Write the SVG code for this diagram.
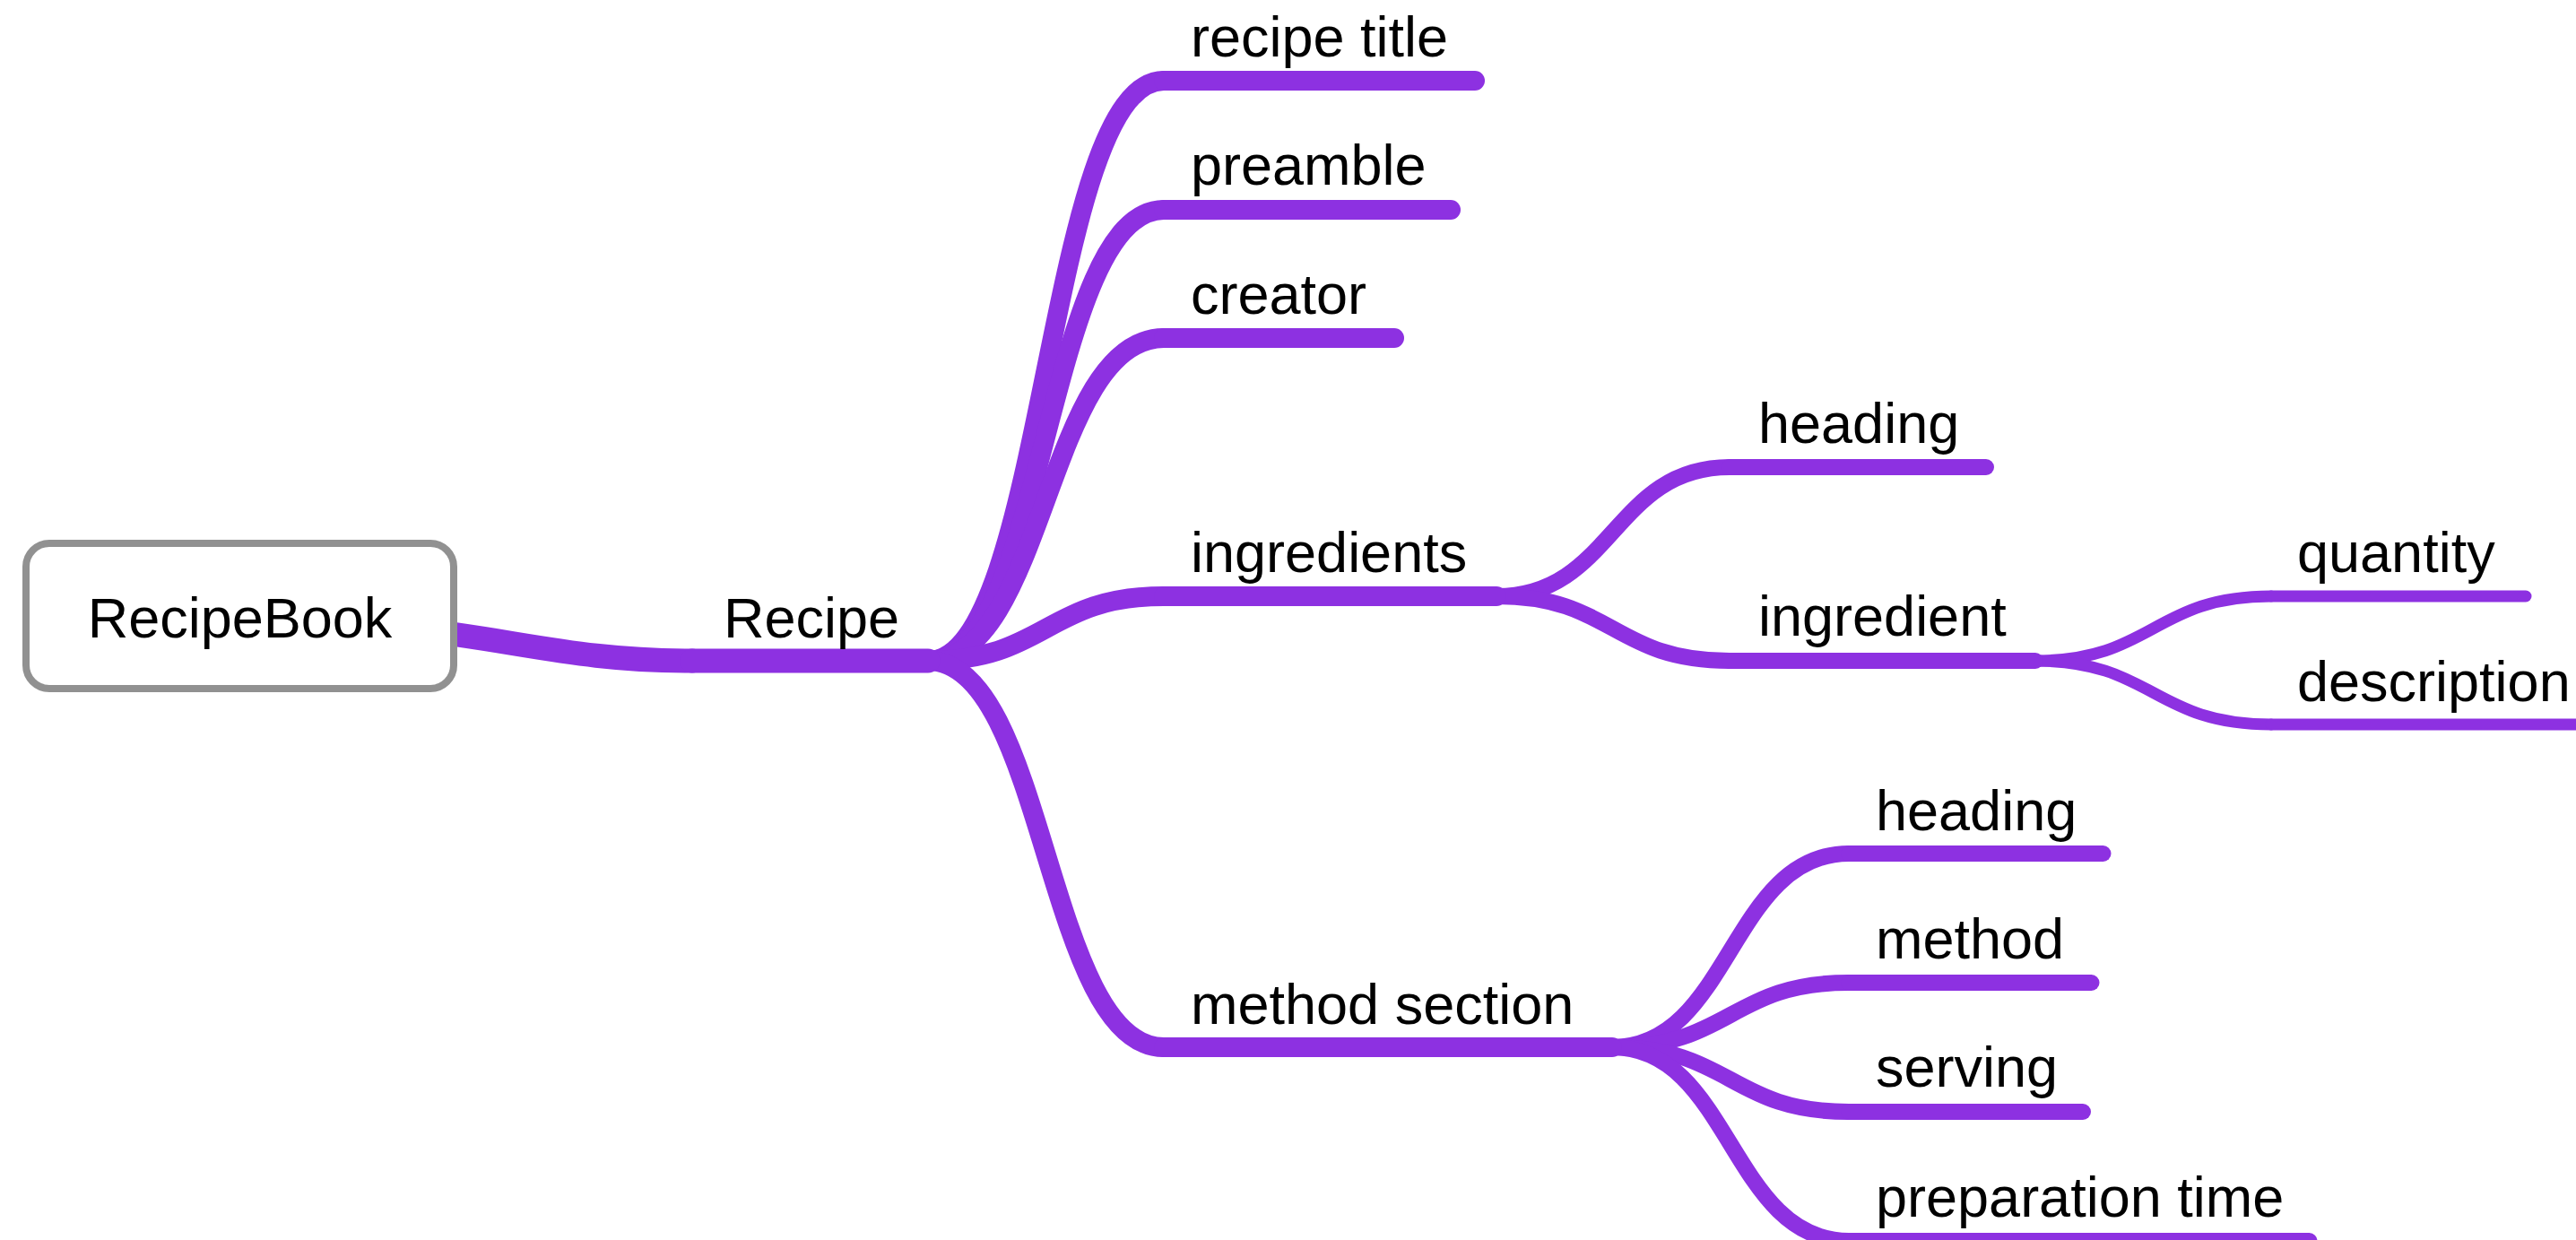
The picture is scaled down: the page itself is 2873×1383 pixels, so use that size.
<svg xmlns="http://www.w3.org/2000/svg" width="2873" height="1383" viewBox="0 0 2873 1383">
<style>
text{font-family:"Liberation Sans",Arial,sans-serif;font-size:63px;fill:#000}
.ln{fill:none;stroke:#8D31E1;stroke-linecap:round}
.d1{stroke-width:27}
.d2{stroke-width:22}
.d3{stroke-width:18}
.d4{stroke-width:13}
</style>
<rect width="2873" height="1383" fill="#fff"/>
<g id="connectors">
<path class="ln d1" d="M440,699 C580,714 640,737 772,737"/>
<path class="ln d2" d="M1035,737 C1166.5,737 1166.5,90 1298,90"/>
<path class="ln d2" d="M1035,737 C1166.5,737 1166.5,234 1298,234"/>
<path class="ln d2" d="M1035,737 C1166.5,737 1166.5,377 1298,377"/>
<path class="ln d2" d="M1035,737 C1166.5,737 1166.5,665 1298,665"/>
<path class="ln d2" d="M1035,737 C1166.5,737 1166.5,1168 1298,1168"/>
<path class="ln d3" d="M1669,665 C1799,665 1799,521 1929,521"/>
<path class="ln d3" d="M1669,665 C1799,665 1799,737 1929,737"/>
<path class="ln d4" d="M2270,737 C2401.5,737 2401.5,665 2533,665"/>
<path class="ln d4" d="M2270,737 C2401.5,737 2401.5,808 2533,808"/>
<path class="ln d3" d="M1798,1168 C1930,1168 1930,952 2062,952"/>
<path class="ln d3" d="M1798,1168 C1930,1168 1930,1096 2062,1096"/>
<path class="ln d3" d="M1798,1168 C1930,1168 1930,1240 2062,1240"/>
<path class="ln d3" d="M1798,1168 C1930,1168 1930,1384 2062,1384"/>
</g>
<g id="node-recipebook">
<rect x="29" y="606" width="477" height="162" rx="26" ry="26" fill="#fff" stroke="#919191" stroke-width="8"/>
<text x="267.5" y="710.7" text-anchor="middle">RecipeBook</text>
</g>
<g id="node-recipe">
<line class="ln d1" x1="772" y1="737" x2="1035" y2="737"/>
<text x="807" y="710.7">Recipe</text>
</g>
<g id="node-recipe-title">
<line class="ln d2" x1="1298" y1="90" x2="1645" y2="90"/>
<text x="1328" y="63">recipe title</text>
</g>
<g id="node-preamble">
<line class="ln d2" x1="1298" y1="234" x2="1618" y2="234"/>
<text x="1328" y="206">preamble</text>
</g>
<g id="node-creator">
<line class="ln d2" x1="1298" y1="377" x2="1555" y2="377"/>
<text x="1328" y="350">creator</text>
</g>
<g id="node-ingredients">
<line class="ln d2" x1="1298" y1="665" x2="1669" y2="665"/>
<text x="1328" y="638">ingredients</text>
</g>
<g id="node-method-section">
<line class="ln d2" x1="1298" y1="1168" x2="1798" y2="1168"/>
<text x="1328" y="1141.7">method section</text>
</g>
<g id="node-heading-1">
<line class="ln d3" x1="1929" y1="521" x2="2215" y2="521"/>
<text x="1961" y="494">heading</text>
</g>
<g id="node-ingredient">
<line class="ln d3" x1="1929" y1="737" x2="2270" y2="737"/>
<text x="1961" y="709">ingredient</text>
</g>
<g id="node-quantity">
<line class="ln d4" x1="2533" y1="665" x2="2817" y2="665"/>
<text x="2562" y="638">quantity</text>
</g>
<g id="node-description">
<line class="ln d4" x1="2533" y1="808" x2="2900" y2="808"/>
<text x="2562" y="781.7">description</text>
</g>
<g id="node-heading-2">
<line class="ln d3" x1="2062" y1="952" x2="2345.5" y2="952"/>
<text x="2092" y="925.5">heading</text>
</g>
<g id="node-method">
<line class="ln d3" x1="2062" y1="1096" x2="2332.5" y2="1096"/>
<text x="2092" y="1069">method</text>
</g>
<g id="node-serving">
<line class="ln d3" x1="2062" y1="1240" x2="2323" y2="1240"/>
<text x="2092" y="1212">serving</text>
</g>
<g id="node-preparation-time">
<line class="ln d3" x1="2062" y1="1384" x2="2575.5" y2="1384"/>
<text x="2092" y="1356.5">preparation time</text>
</g>
</svg>
